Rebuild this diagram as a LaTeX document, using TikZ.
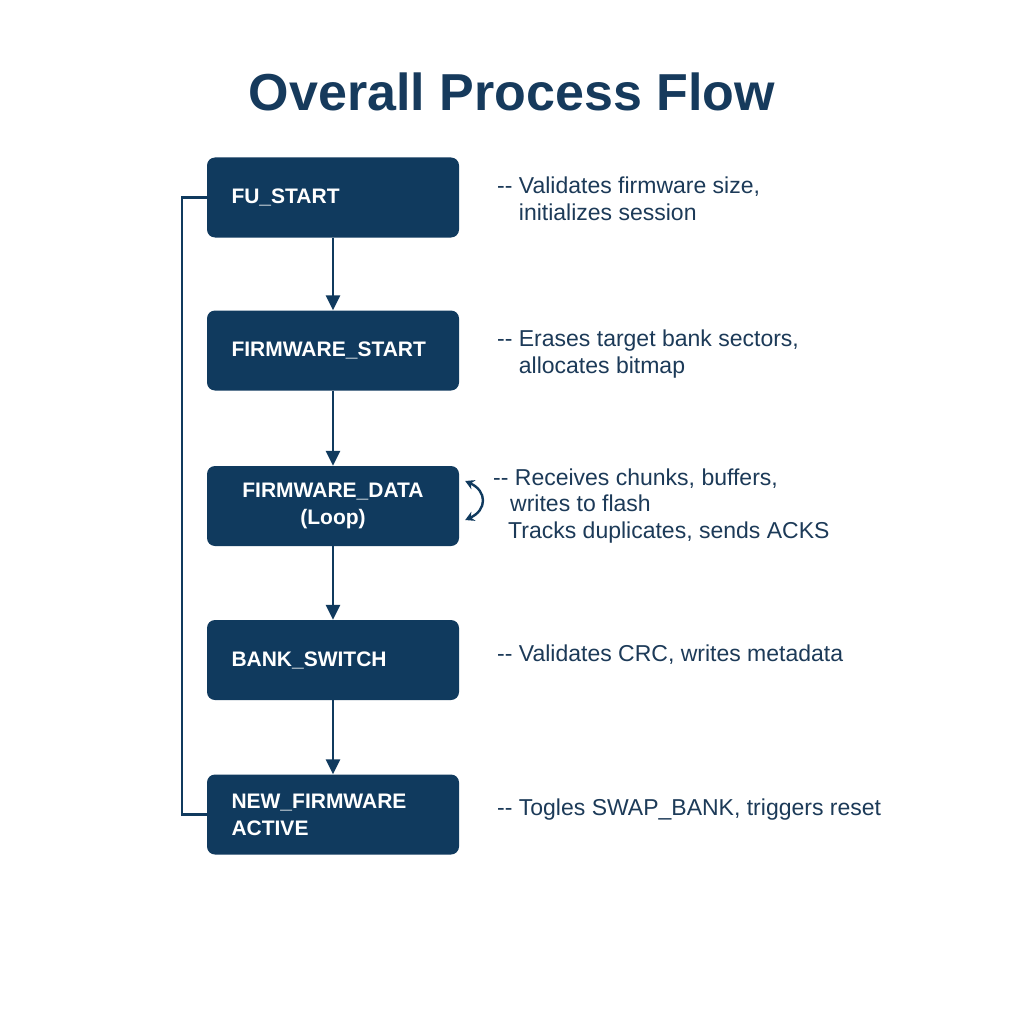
\documentclass[tikz,border=0pt]{standalone}
\usepackage{fontspec}
\setmainfont{Liberation Sans}
\usetikzlibrary{arrows.meta}
\definecolor{navy}{HTML}{103A5E}
\definecolor{titleblue}{HTML}{163A5C}
\definecolor{notetext}{HTML}{1C3A58}
\begin{document}
\begin{tikzpicture}[x=1pt,y=-1pt]

    \tikzset{
      stage/.style={
        fill=navy,
        rounded corners=8pt,
        minimum width=252pt,
        minimum height=80pt,
        text width=203pt,
        inner xsep=24.5pt,
        align=left,
        text=white,
        font=\fontsize{21}{27}\selectfont\bfseries,
      },
      note/.style={
        anchor=west,
        align=left,
        inner sep=0pt,
        text=notetext,
        font=\fontsize{23}{26.5}\selectfont,
      },
      flow/.style={
        navy,
        line width=2.6pt,
        -{Triangle[length=15pt,width=14pt]},
      },
    }
    \useasboundingbox[fill=white] (0,0) rectangle (1024,1024);
    \node[text=titleblue,font=\fontsize{52}{60}\selectfont\bfseries] (title) at (512,92) {Overall Process Flow};

    % stages
    \node[stage] (fustart) at (333,197.5) {FU\_START};
    \node[stage] (fwstart) at (333,350.5) {FIRMWARE\_START};
    \node[stage,align=center] (fwdata) at (333,506) {FIRMWARE\_DATA\\(Loop)};
    \node[stage] (bankswitch) at (333,660) {BANK\_SWITCH};
    \node[stage] (newfw) at (333,814.5) {NEW\_FIRMWARE\\ACTIVE};

    % notes
    \node[note] (nfustart) at (497,199) {-{}- Validates firmware size,\\\phantom{-{}- }initializes session};
    \node[note] (nfwstart) at (497,354) {-{}- Erases target bank sectors,\\\phantom{-{}- }allocates bitmap};
    \node[note] (nfwdata) at (493,506) {-{}- Receives chunks, buffers,\\\hspace{17pt}writes to flash\\\hspace{15pt}Tracks duplicates, sends ACKS};
    \node[note] (nbankswitch) at (497,655) {-{}- Validates CRC, writes metadata};
    \node[note] (nnewfw) at (497,810) {-{}- Togles SWAP\_BANK, triggers reset};

    \draw[flow] (fustart) -- (fwstart);
    \draw[flow] (fwstart) -- (fwdata);
    \draw[flow] (fwdata) -- (bankswitch);
    \draw[flow] (bankswitch) -- (newfw);
    \draw[navy,line width=2.4pt] (fustart.west) -- ++(-25,0) |- (newfw.west);
    \draw[navy,line width=2.4pt,{Stealth[length=9pt,width=10pt]}-{Stealth[length=9pt,width=10pt]}]
      ([shift={(6,-25)}]fwdata.east) .. controls +(22,10) and +(22,-10) .. ([shift={(6,14)}]fwdata.east);

\end{tikzpicture}
\end{document}
